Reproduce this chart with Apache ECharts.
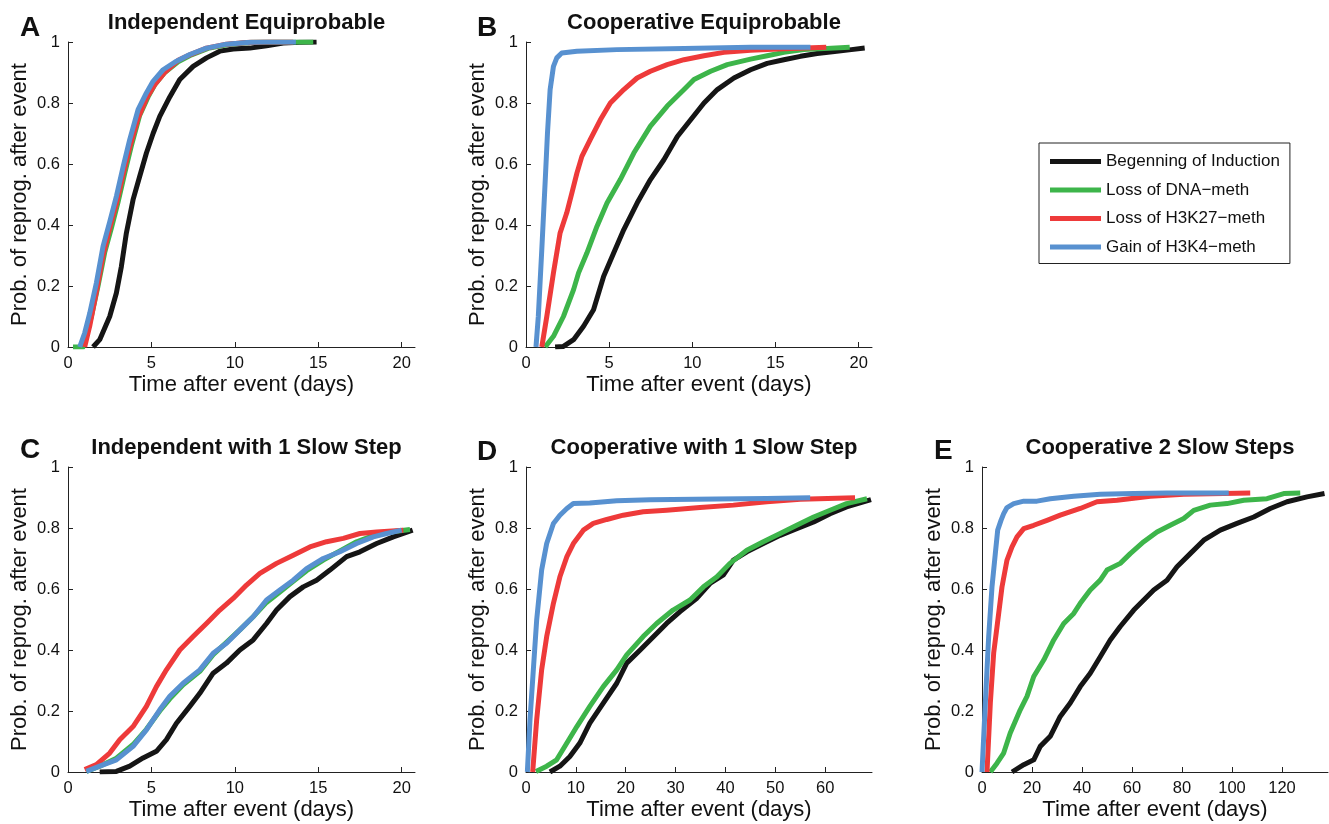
<!DOCTYPE html>
<html>
<head>
<meta charset="utf-8">
<script src="https://cdn.jsdelivr.net/npm/echarts@6/dist/echarts.min.js"></script>
<style>
html,body{margin:0;padding:0;background:#fff;}
#chart{width:1329px;height:824px;}
</style>
</head>
<body>
<div id="chart"></div>
<script>
// ---- Labels ----
const seriesNames = ['Begenning of Induction', 'Loss of DNA\u2212meth', 'Loss of H3K27\u2212meth', 'Gain of H3K4\u2212meth'];
const panelLetters = ['A', 'B', 'C', 'D', 'E'];
const panelTitles = ['Independent Equiprobable', 'Cooperative Equiprobable', 'Independent with 1 Slow Step', 'Cooperative with 1 Slow Step', 'Cooperative 2 Slow Steps'];
const xAxisName = 'Time after event (days)';
const yAxisName = 'Prob. of reprog. after event';
const xTicksSmall = [0, 5, 10, 15, 20];
const xTicksD = [0, 10, 20, 30, 40, 50, 60];
const xTicksE = [0, 20, 40, 60, 80, 100, 120];
const xMax = [20.8, 20.8, 20.8, 69.4, 138.4];

// ---- Panel A: Independent Equiprobable ----
const A_black = [[1.5,0],[1.9,0.024],[2.5,0.1],[2.9,0.177],[3.2,0.264],[3.5,0.374],[3.9,0.483],[4.3,0.56],[4.7,0.636],[5.1,0.70],[5.5,0.756],[6.1,0.82],[6.7,0.877],[7.5,0.92],[8.3,0.948],[9.1,0.97],[9.9,0.977],[10.9,0.98],[11.9,0.988],[12.9,0.997],[13.9,0.999],[14.9,1.0]];
const A_green = [[0.3,0],[0.9,0],[1.1,0.04],[1.4,0.1],[1.8,0.2],[2.2,0.31],[2.6,0.39],[3.0,0.475],[3.4,0.57],[3.8,0.66],[4.3,0.76],[4.8,0.82],[5.2,0.86],[5.8,0.9],[6.6,0.935],[7.4,0.958],[8.4,0.979],[9.6,0.992],[11.0,0.999],[12.0,1.0],[14.7,1.0]];
const A_red = [[1.0,0],[1.3,0.068],[1.7,0.18],[2.1,0.3],[2.5,0.39],[2.9,0.47],[3.3,0.565],[3.7,0.655],[4.2,0.75],[4.7,0.815],[5.2,0.86],[5.8,0.9],[6.6,0.94],[7.3,0.958],[8.3,0.98],[9.5,0.993],[10.9,0.999],[11.9,1.0],[13.5,1.0]];
const A_blue = [[0.7,0],[1.0,0.046],[1.3,0.11],[1.7,0.21],[2.1,0.33],[2.5,0.41],[2.9,0.494],[3.3,0.59],[3.7,0.68],[4.2,0.778],[4.7,0.833],[5.1,0.871],[5.7,0.909],[6.5,0.937],[7.3,0.959],[8.3,0.98],[9.5,0.993],[10.9,0.999],[11.9,1.0],[13.66,1.0]];

// ---- Panel B: Cooperative Equiprobable ----
const B_black = [[1.75,0],[2.25,0.002],[2.86,0.024],[3.46,0.068],[4.06,0.122],[4.67,0.232],[5.27,0.308],[5.88,0.385],[6.68,0.472],[7.48,0.549],[8.29,0.614],[9.1,0.69],[9.9,0.745],[10.7,0.80],[11.5,0.844],[12.5,0.882],[13.5,0.909],[14.5,0.93],[15.5,0.942],[16.5,0.953],[17.5,0.962],[18.55,0.969],[19.56,0.975],[20.36,0.98]];
const B_green = [[1.15,0],[1.65,0.035],[2.25,0.1],[2.86,0.188],[3.16,0.243],[3.66,0.308],[4.27,0.396],[4.87,0.472],[5.67,0.549],[6.48,0.636],[7.48,0.724],[8.49,0.79],[9.5,0.844],[10.1,0.877],[11.1,0.904],[12.1,0.926],[13.5,0.944],[14.5,0.955],[15.5,0.966],[16.7,0.975],[19.46,0.983]];
const B_red = [[0.95,0],[1.25,0.1],[1.65,0.243],[2.05,0.374],[2.45,0.44],[2.76,0.505],[3.06,0.57],[3.36,0.625],[3.86,0.68],[4.47,0.745],[5.07,0.80],[5.88,0.844],[6.68,0.882],[7.48,0.904],[8.49,0.926],[9.5,0.942],[10.7,0.955],[11.9,0.966],[13.5,0.973],[15.5,0.978],[18.05,0.983]];
const B_blue = [[0.6,0],[0.74,0.1],[0.95,0.32],[1.15,0.54],[1.29,0.70],[1.45,0.844],[1.65,0.92],[1.85,0.948],[2.15,0.964],[3.06,0.97],[5.47,0.975],[9.5,0.979],[13.5,0.983],[17.1,0.983]];

// ---- Panel C: Independent with 1 Slow Step ----
const C_black = [[1.9,0],[2.9,0.002],[3.7,0.019],[4.5,0.046],[5.3,0.068],[5.9,0.106],[6.5,0.16],[7.3,0.215],[7.9,0.258],[8.7,0.324],[9.5,0.357],[10.3,0.40],[11.1,0.433],[11.9,0.487],[12.5,0.531],[13.3,0.575],[14.1,0.607],[14.9,0.629],[15.7,0.662],[16.7,0.706],[17.5,0.722],[18.5,0.749],[19.5,0.771],[20.66,0.793]];
const C_green = [[1.1,0.002],[1.9,0.019],[2.9,0.045],[3.9,0.09],[4.7,0.14],[5.5,0.2],[6.1,0.24],[6.9,0.286],[7.9,0.33],[8.7,0.385],[9.5,0.425],[10.3,0.466],[11.1,0.509],[11.9,0.556],[12.7,0.59],[13.5,0.625],[14.3,0.66],[15.3,0.695],[16.3,0.725],[17.3,0.755],[18.3,0.775],[19.1,0.785],[20.5,0.795]];
const C_red = [[1.0,0.008],[1.7,0.024],[2.5,0.062],[3.1,0.106],[3.9,0.149],[4.7,0.215],[5.3,0.28],[5.9,0.335],[6.7,0.40],[7.5,0.444],[8.3,0.487],[9.1,0.531],[9.9,0.569],[10.7,0.613],[11.5,0.651],[12.5,0.684],[13.5,0.711],[14.5,0.738],[15.5,0.755],[16.5,0.766],[17.5,0.782],[18.5,0.787],[20.1,0.793]];
const C_blue = [[1.1,0.002],[1.9,0.019],[2.9,0.04],[3.9,0.084],[4.7,0.138],[5.5,0.204],[6.1,0.248],[6.9,0.291],[7.9,0.335],[8.7,0.389],[9.5,0.422],[10.3,0.466],[11.1,0.509],[11.9,0.564],[12.7,0.597],[13.5,0.629],[14.3,0.667],[15.3,0.70],[16.3,0.722],[17.3,0.749],[18.3,0.771],[19.1,0.782],[20.0,0.793]];

// ---- Panel D: Cooperative with 1 Slow Step ----
const D_black = [[4.8,0],[6.8,0.019],[8.8,0.051],[10.8,0.095],[12.8,0.16],[15.5,0.226],[18.2,0.291],[20.2,0.357],[22.9,0.40],[25.6,0.444],[28.2,0.487],[30.9,0.526],[34.2,0.569],[36.9,0.618],[39.6,0.646],[41.6,0.695],[44.3,0.722],[47.6,0.749],[50.97,0.776],[54.3,0.798],[57.7,0.82],[61.0,0.847],[64.3,0.869],[69.2,0.893]];
const D_green = [[2.0,0.002],[4.15,0.019],[6.15,0.04],[8.2,0.095],[10.2,0.149],[12.8,0.215],[15.5,0.28],[18.2,0.335],[20.2,0.384],[23.5,0.444],[26.2,0.487],[29.5,0.531],[32.9,0.564],[35.6,0.607],[38.3,0.64],[40.9,0.684],[44.3,0.727],[47.6,0.755],[50.97,0.782],[54.3,0.809],[57.7,0.836],[61.0,0.858],[64.3,0.88],[68.4,0.896]];
const D_red = [[1.34,0],[2.14,0.171],[3.14,0.335],[4.15,0.444],[5.5,0.553],[6.8,0.64],[8.2,0.706],[9.5,0.749],[11.5,0.793],[13.5,0.815],[16.2,0.828],[19.5,0.842],[23.5,0.853],[28.2,0.858],[34.9,0.867],[41.6,0.875],[48.3,0.886],[55.0,0.894],[66.0,0.899]];
const D_blue = [[0.27,0],[0.8,0.171],[1.47,0.335],[2.14,0.498],[3.14,0.662],[4.15,0.749],[5.5,0.815],[6.8,0.842],[8.2,0.864],[9.5,0.88],[12.8,0.882],[18.2,0.889],[24.9,0.893],[38.3,0.895],[48.3,0.897],[57.0,0.899]];

// ---- Panel E: Cooperative 2 Slow Steps ----
const E_black = [[12,0],[16.7,0.024],[20.7,0.04],[23.3,0.084],[27.3,0.117],[31.3,0.182],[35.3,0.226],[39.3,0.28],[43.3,0.324],[47.3,0.378],[51.3,0.433],[55.3,0.477],[60.7,0.531],[64.7,0.564],[68.7,0.597],[74,0.629],[78,0.673],[83.3,0.716],[88.7,0.76],[95.3,0.793],[102,0.815],[108.7,0.836],[115.3,0.864],[122,0.886],[130,0.902],[137,0.913]];
const E_green = [[3.33,0],[6,0.029],[8.67,0.062],[11.3,0.128],[15.3,0.204],[18,0.248],[20.7,0.313],[24.7,0.367],[28.7,0.433],[32.7,0.487],[36.7,0.52],[39.3,0.553],[43.3,0.597],[47.3,0.629],[50,0.662],[55.3,0.684],[59.3,0.716],[64.7,0.755],[70,0.787],[75.3,0.809],[80.7,0.831],[84.7,0.858],[91.3,0.875],[98,0.88],[104.7,0.891],[114,0.896],[120.7,0.913],[127.3,0.915]];
const E_red = [[2.0,0],[3.33,0.226],[4.67,0.39],[6.0,0.476],[8.0,0.607],[10,0.695],[12,0.738],[14,0.771],[16.7,0.798],[20.7,0.809],[26,0.825],[31.3,0.842],[39.3,0.864],[46,0.886],[54,0.891],[67.3,0.904],[80.7,0.911],[107.3,0.915]];
const E_blue = [[0,0],[1.33,0.226],[2.67,0.444],[4.0,0.607],[5.33,0.716],[6.27,0.793],[7.6,0.825],[8.67,0.847],[10.0,0.867],[12.7,0.88],[16.7,0.888],[22,0.888],[27.3,0.896],[36.7,0.904],[47.3,0.911],[60.7,0.913],[74,0.915],[98.7,0.915]];

const panelData = [
  [A_black, A_green, A_red, A_blue],
  [B_black, B_green, B_red, B_blue],
  [C_black, C_green, C_red, C_blue],
  [D_black, D_green, D_red, D_blue],
  [E_black, E_green, E_red, E_blue]
];
const panelTicks = [xTicksSmall, xTicksSmall, xTicksSmall, xTicksD, xTicksE];

// ---- Styling / layout ----
const colors = ['#151515', '#3db54a', '#ee3a3a', '#5891d0'];
const FONT = 'Liberation Sans, Arial, Helvetica, sans-serif';
const grids = [
  {left: 68, top: 42, width: 347, height: 305},
  {left: 526, top: 42, width: 346, height: 305},
  {left: 68, top: 467, width: 347, height: 305},
  {left: 526, top: 467, width: 346, height: 305},
  {left: 982, top: 467, width: 346, height: 305}
];

const axisLineStyle = {color: '#222', width: 1};
const xAxes = [], yAxes = [], series = [], titles = [];
grids.forEach((g, i) => {
  xAxes.push({
    gridIndex: i, type: 'value', min: 0, max: xMax[i],
    name: xAxisName, nameLocation: 'middle', nameGap: 27,
    nameTextStyle: {fontFamily: FONT, fontSize: 22, color: '#111'},
    axisLine: {show: true, onZero: false, lineStyle: axisLineStyle},
    axisTick: {show: true, inside: true, length: 5, lineStyle: axisLineStyle, customValues: panelTicks[i]},
    axisLabel: {fontFamily: FONT, fontSize: 16.5, color: '#111', margin: 8, customValues: panelTicks[i]},
    splitLine: {show: false}
  });
  yAxes.push({
    gridIndex: i, type: 'value', min: 0, max: 1, interval: 0.2,
    name: yAxisName, nameLocation: 'middle', nameGap: 37, nameRotate: 90,
    nameTextStyle: {fontFamily: FONT, fontSize: 22, color: '#111'},
    axisLine: {show: true, onZero: false, lineStyle: axisLineStyle},
    axisTick: {show: true, inside: true, length: 5, lineStyle: axisLineStyle},
    axisLabel: {fontFamily: FONT, fontSize: 16.5, color: '#111', margin: 8},
    splitLine: {show: false}
  });
  panelData[i].forEach((d, k) => {
    series.push({
      type: 'line', name: seriesNames[k], xAxisIndex: i, yAxisIndex: i,
      data: d, showSymbol: false, symbol: 'none', smooth: false,
      lineStyle: {color: colors[k], width: 5, join: 'round', cap: 'butt'},
      itemStyle: {color: colors[k]}, z: 2 + k, animation: false
    });
  });
  titles.push({
    text: panelTitles[i], left: g.left + g.width / 2, textAlign: 'center', top: g.top - 35,
    textStyle: {fontFamily: FONT, fontSize: 22, fontWeight: 'bold', color: '#111'}
  });
});
const letterPos = [[20, 14], [477, 14], [20, 436], [477, 438], [934, 437]];
letterPos.forEach((p, i) => {
  titles.push({
    text: panelLetters[i], left: p[0], top: p[1], padding: 0,
    textStyle: {fontFamily: FONT, fontSize: 28, fontWeight: 'bold', color: '#111'}
  });
});

const chart = echarts.init(document.getElementById('chart'), null, {renderer: 'canvas'});
chart.setOption({
  animation: false,
  backgroundColor: '#fff',
  title: titles,
  grid: grids,
  xAxis: xAxes,
  yAxis: yAxes,
  legend: {
    data: seriesNames, orient: 'vertical', left: 1039, top: 143,
    icon: 'rect', itemWidth: 51, itemHeight: 5, itemGap: 11.5,
    padding: [10, 10, 8, 11], borderColor: '#222', borderWidth: 1, backgroundColor: '#fff',
    textStyle: {fontFamily: FONT, fontSize: 17, color: '#111'},
    selectedMode: false
  },
  series: series
});
</script>
</body>
</html>
